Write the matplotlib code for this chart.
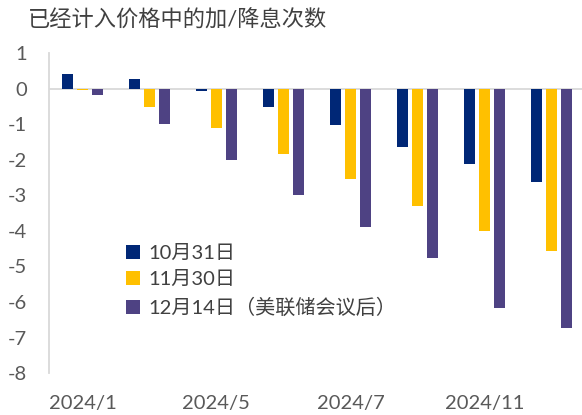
import matplotlib
matplotlib.use("Agg")
import matplotlib.pyplot as plt
import numpy as np

plt.rcParams['font.family'] = ['Lato', 'Noto Sans CJK SC', 'DejaVu Sans']
plt.rcParams['axes.unicode_minus'] = False

# FOMC meetings in 2024
meetings = ['2024/1', '2024/3', '2024/5', '2024/6', '2024/7', '2024/9', '2024/11', '2024/12']
tick_labels = ['2024/1', '', '2024/5', '', '2024/7', '', '2024/11', '']

oct31 = [0.41, 0.28, -0.07, -0.52, -1.03, -1.63, -2.13, -2.63]
nov30 = [-0.03, -0.52, -1.12, -1.85, -2.53, -3.31, -4.00, -4.58]
dec14 = [-0.18, -1.00, -2.00, -3.00, -3.90, -4.77, -6.17, -6.74]

labels = ['10月31日', '11月30日', '12月14日（美联储会议后）']
colors = ['#002776', '#FFC000', '#4E4283']

fig = plt.figure(figsize=(5.82, 4.15), dpi=100)
ax = fig.add_axes([0.084, 0.101, 0.916, 0.771])

x = np.arange(len(meetings))
w = 0.172
off = 0.224
for i, (vals, lab, c) in enumerate(zip([oct31, nov30, dec14], labels, colors)):
    ax.bar(x + (i - 1) * off, vals, width=w, color=c, label=lab, zorder=2)

ax.axhline(0, color='#D9D9D9', lw=1.3, zorder=1)
ax.set_ylim(-8, 1)
ax.set_xlim(-0.5, 7.455)
ax.set_yticks(range(-8, 2))
ax.set_xticks(x)
ax.set_xticklabels(tick_labels)

for s in ['top', 'right', 'bottom']:
    ax.spines[s].set_visible(False)
ax.spines['left'].set_color('#D9D9D9')
ax.spines['left'].set_linewidth(1.3)
ax.tick_params(axis='both', length=0, colors='#595959', labelsize=14.5)
ax.tick_params(axis='y', pad=16)
ax.tick_params(axis='x', pad=16)

fig.text(0.048, 0.952, '已经计入价格中的加/降息次数', fontsize=16,
         color='#404040', ha='left', va='center')

ax.legend(loc='upper left', bbox_to_anchor=(126 / 582, 1 - 245 / 415),
          bbox_transform=fig.transFigure, frameon=False, fontsize=14.5,
          handlelength=0.7, handleheight=0.7, handletextpad=0.4,
          labelspacing=0.45, borderpad=0, borderaxespad=0,
          labelcolor='#404040')

fig.savefig('out.png', dpi=100)
